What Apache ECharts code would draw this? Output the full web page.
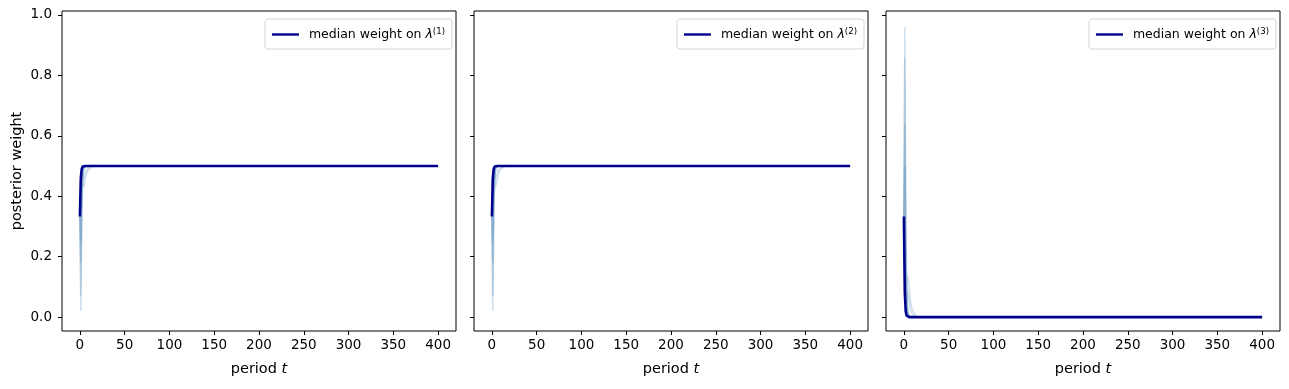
<!DOCTYPE html>
<html>
<head>
<meta charset="utf-8">
<script src="https://cdn.jsdelivr.net/npm/echarts@6/dist/echarts.min.js"></script>
<style>
html,body{margin:0;padding:0;background:#fff;}
#chart{width:1289px;height:389px;}
</style>
</head>
<body>
<div id="chart"></div>
<script>
// ---- data ----
const xTicks = [0, 50, 100, 150, 200, 250, 300, 350, 400];
const yTicks = [0.0, 0.2, 0.4, 0.6, 0.8, 1.0];
const periods = [0, 1, 2, 3, 4, 5, 6, 7, 8, 10, 15, 400];

const median1 = [0.333, 0.46, 0.49, 0.498, 0.5, 0.5, 0.5, 0.5, 0.5, 0.5, 0.5, 0.5];
const median2 = [0.333, 0.46, 0.49, 0.498, 0.5, 0.5, 0.5, 0.5, 0.5, 0.5, 0.5, 0.5];
const median3 = [0.333, 0.08, 0.02, 0.005, 0.001, 0, 0, 0, 0, 0, 0, 0];

const draws1 = [
  [0.333, 0.02, 0.29, 0.44, 0.48, 0.495, 0.498, 0.5, 0.5, 0.5, 0.5, 0.5],
  [0.333, 0.07, 0.32, 0.45, 0.485, 0.495, 0.5, 0.5, 0.5, 0.5, 0.5, 0.5],
  [0.333, 0.18, 0.39, 0.47, 0.49, 0.5, 0.5, 0.5, 0.5, 0.5, 0.5, 0.5],
  [0.333, 0.25, 0.42, 0.48, 0.495, 0.5, 0.5, 0.5, 0.5, 0.5, 0.5, 0.5],
  [0.333, 0.41, 0.47, 0.45, 0.43, 0.44, 0.455, 0.47, 0.48, 0.49, 0.5, 0.5],
  [0.333, 0.35, 0.46, 0.49, 0.5, 0.5, 0.5, 0.5, 0.5, 0.5, 0.5, 0.5],
  [0.333, 0.44, 0.485, 0.47, 0.455, 0.465, 0.475, 0.485, 0.49, 0.497, 0.5, 0.5]
];
const draws2 = [
  [0.333, 0.02, 0.29, 0.44, 0.48, 0.495, 0.5, 0.5, 0.5, 0.5, 0.5, 0.5],
  [0.333, 0.07, 0.33, 0.45, 0.49, 0.5, 0.5, 0.5, 0.5, 0.5, 0.5, 0.5],
  [0.333, 0.18, 0.38, 0.47, 0.49, 0.5, 0.5, 0.5, 0.5, 0.5, 0.5, 0.5],
  [0.333, 0.25, 0.43, 0.48, 0.495, 0.5, 0.5, 0.5, 0.5, 0.5, 0.5, 0.5],
  [0.333, 0.41, 0.47, 0.45, 0.43, 0.44, 0.455, 0.47, 0.48, 0.49, 0.5, 0.5],
  [0.333, 0.35, 0.46, 0.49, 0.5, 0.5, 0.5, 0.5, 0.5, 0.5, 0.5, 0.5],
  [0.333, 0.44, 0.485, 0.47, 0.455, 0.465, 0.475, 0.485, 0.49, 0.497, 0.5, 0.5]
];
const draws3 = [
  [0.333, 0.96, 0.42, 0.12, 0.04, 0.01, 0.004, 0.001, 0, 0, 0, 0],
  [0.333, 0.86, 0.35, 0.10, 0.03, 0.01, 0.003, 0.001, 0, 0, 0, 0],
  [0.333, 0.64, 0.22, 0.06, 0.02, 0.005, 0.001, 0, 0, 0, 0, 0],
  [0.333, 0.50, 0.15, 0.04, 0.01, 0.003, 0, 0, 0, 0, 0, 0],
  [0.333, 0.18, 0.06, 0.10, 0.14, 0.12, 0.09, 0.06, 0.04, 0.02, 0, 0],
  [0.333, 0.30, 0.08, 0.02, 0.005, 0.001, 0, 0, 0, 0, 0, 0],
  [0.333, 0.12, 0.03, 0.06, 0.09, 0.07, 0.05, 0.03, 0.02, 0.006, 0, 0]
];
const legendNames = ['median weight on λ(1)', 'median weight on λ(2)', 'median weight on λ(3)'];
const supers = ['(1)', '(2)', '(3)'];

// ---- chart ----
const FONT = 'DejaVu Sans';
const chart = echarts.init(document.getElementById('chart'), null, {renderer: 'canvas'});
const lefts = [62, 474, 886];
const panelW = 394;
const medians = [median1, median2, median3];
const draws = [draws1, draws2, draws3];
const pair = (vals) => periods.map((t, i) => [t, vals[i]]);

const grids = [], xAxes = [], yAxes = [], series = [], legends = [];
lefts.forEach((l, k) => {
  grids.push({left: l, top: 11, width: panelW, height: 320, show: true,
    borderColor: '#000', borderWidth: 1, backgroundColor: 'transparent'});
  xAxes.push({type: 'value', gridIndex: k, min: -20, max: 420,
    name: 'period {i|t}', nameLocation: 'middle', nameGap: 31,
    nameTextStyle: {fontFamily: FONT, fontSize: 14.5, color: '#000',
      rich: {i: {fontFamily: FONT, fontSize: 14.5, fontStyle: 'italic', color: '#000'}}},
    axisLine: {show: false, onZero: false},
    axisTick: {show: true, length: 4, inside: false, customValues: xTicks, lineStyle: {color: '#000'}},
    axisLabel: {show: true, customValues: xTicks, fontFamily: FONT, fontSize: 13.5, color: '#000', margin: 7},
    splitLine: {show: false}
  });
  yAxes.push({type: 'value', gridIndex: k, min: -0.046, max: 1.013,
    name: k === 0 ? 'posterior weight' : '', nameLocation: 'middle', nameGap: 37, nameRotate: 90,
    nameTextStyle: {fontFamily: FONT, fontSize: 14.5, color: '#000'},
    axisLine: {show: false, onZero: false},
    axisTick: {show: true, length: 4, inside: false, customValues: yTicks, lineStyle: {color: '#000'}},
    axisLabel: {show: k === 0, customValues: yTicks, fontFamily: FONT, fontSize: 13.5, color: '#000', margin: 10,
      formatter: v => v.toFixed(1)},
    splitLine: {show: false}
  });
  draws[k].forEach((d, j) => {
    series.push({type: 'line', xAxisIndex: k, yAxisIndex: k, data: pair(d), symbol: 'none',
      silent: true, lineStyle: {color: 'rgba(70,130,180,0.25)', width: 1.5}, z: 2});
  });
  series.push({type: 'line', name: legendNames[k], xAxisIndex: k, yAxisIndex: k, data: pair(medians[k]),
    symbol: 'none', lineStyle: {color: '#00008b', width: 2.6}, itemStyle: {color: '#00008b'}, z: 5});
  legends.push({
    data: [legendNames[k]], right: 1289 - (l + panelW) + 4, top: 19,
    orient: 'horizontal', icon: 'rect', itemWidth: 27, itemHeight: 2.4, itemGap: 6,
    padding: [8, 7, 7, 7], borderColor: '#d6d6d6', borderWidth: 1, borderRadius: 3,
    backgroundColor: '#fff',
    formatter: () => '{a|median weight on }{l|λ}{s|' + supers[k] + '}',
    textStyle: {fontFamily: FONT, fontSize: 12.5, color: '#000', padding: [0, 0, 0, 5],
      rich: {
        a: {fontFamily: FONT, fontSize: 12.5, color: '#000', lineHeight: 15},
        l: {fontFamily: FONT, fontSize: 12.5, fontStyle: 'italic', color: '#000', lineHeight: 15},
        s: {fontFamily: FONT, fontSize: 8.6, color: '#000', verticalAlign: 'top', lineHeight: 15, padding: [0, 0, 6, 0]}
      }}
  });
});

chart.setOption({
  animation: false,
  backgroundColor: '#fff',
  grid: grids, xAxis: xAxes, yAxis: yAxes, series: series, legend: legends
});
</script>
</body>
</html>
